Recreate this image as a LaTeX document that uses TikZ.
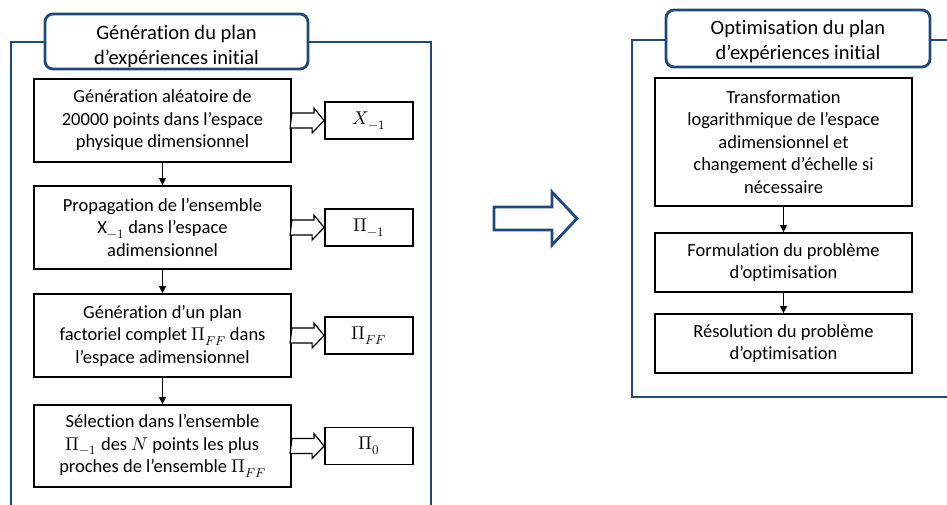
\documentclass[tikz,border=0pt]{standalone}
\usepackage{fontspec}
\usepackage{unicode-math}
\setmainfont{Carlito}[Ligatures={NoCommon}]
\usetikzlibrary{arrows.meta,calc}
\definecolor{frameblue}{RGB}{31,73,125}
\begin{document}
\begin{tikzpicture}[x=1pt,y=-1pt,
  bodytext/.style={font=\fontsize{18.5}{22.5}\selectfont},
  stepbox/.style={draw=black,line width=1.8pt,fill=white,minimum width=257pt,align=center,inner sep=0pt,bodytext},
  outbox/.style={draw=black,line width=1.8pt,fill=white,minimum width=88pt,minimum height=37pt,inner sep=0pt,bodytext},
  titlebox/.style={draw=frameblue,line width=2.8pt,fill=white,rounded corners=8pt,inner sep=0pt},
  titletext/.style={align=center,inner sep=0pt,font=\fontsize{20.5}{25}\selectfont},
  frame/.style={draw=frameblue,line width=2.8pt},
  flow/.style={-{Triangle[length=7pt,width=7pt]},line width=1.3pt},
  hollow/.style={draw=black,line width=1.2pt,fill=white,line join=miter},
  bighollow/.style={draw=frameblue,line width=2.8pt,fill=white,line join=miter}
]
\useasboundingbox (0,0) rectangle (947,504);
\clip (0,0) rectangle (947,504);

% frames
\draw[frame] (11,42) rectangle (431,530);
\draw[frame] (632,40) rectangle (970,397);

% titles
\node[titlebox,minimum width=263pt,minimum height=55pt] (t1) at (176.5,41.5) {};
\node[titletext] (t1text) at ($(t1.center)+(0,5)$) {Génération du plan\\d’expériences initial};
\node[titlebox,minimum width=264pt,minimum height=57pt] (t2) at (798,38.5) {};
\node[titletext] (t2text) at ($(t2.center)+(0,3)$) {Optimisation du plan\\d’expériences initial};

% left steps
\node[stepbox,minimum height=83pt] (b1) at (162.5,120.5)
  {Génération aléatoire de\\20000 points dans l’espace\\physique dimensionnel};
\node[stepbox,minimum height=83pt] (b2) at (162.5,227.5)
  {Propagation de l’ensemble\\$\mathrm{X}_{-1}$ dans l’espace\\adimensionnel};
\node[stepbox,minimum height=83pt] (b3) at (162.5,335.5)
  {Génération d’un plan\\factoriel complet $\upPi_{FF}$ dans\\l’espace adimensionnel};
\node[stepbox,minimum height=82pt] (b4) at (162.5,446)
  {Sélection dans l’ensemble\\$\upPi_{-1}$ des $N$ points les plus\\proches de l’ensemble $\upPi_{FF}$};

% outputs
\node[outbox] (o1) at (369,120.5) {$X_{-1}$};
\node[outbox] (o2) at (369,227.5) {$\upPi_{-1}$};
\node[outbox] (o3) at (369,335.5) {$\upPi_{FF}$};
\node[outbox] (o4) at (369,446) {$\upPi_{0}$};

% flow arrows left
\draw[flow] (b1) -- (b2);
\draw[flow] (b2) -- (b3);
\draw[flow] (b3) -- (b4);

% hollow arrows
\foreach \s/\t in {b1/o1,b2/o2,b3/o3,b4/o4}{
  \draw[hollow] ($(\s.east)+(0,-7.5)$) -- ++(22,0) -- ++(0,-5) -- (\t.west)
    -- ++(-12,12.5) -- ++(0,-5) -- ++(-22,0) -- cycle;
}

% right steps
\node[stepbox,minimum height=128pt] (r1) at (783.5,142)
  {Transformation\\logarithmique de l’espace\\adimensionnel et\\changement d’échelle si\\nécessaire};
\node[stepbox,minimum height=59pt] (r2) at (783.5,262.5)
  {Formulation du problème\\d’optimisation};
\node[stepbox,minimum height=59pt] (r3) at (783.5,343.5)
  {Résolution du problème\\d’optimisation};
\draw[flow] (r1) -- (r2);
\draw[flow] (r2) -- (r3);

% big arrow
\draw[bighollow] (494,207) -- (552,207) -- (552,192) -- (577,218.5) -- (552,245) -- (552,230) -- (494,230) -- cycle;
\end{tikzpicture}
\end{document}
